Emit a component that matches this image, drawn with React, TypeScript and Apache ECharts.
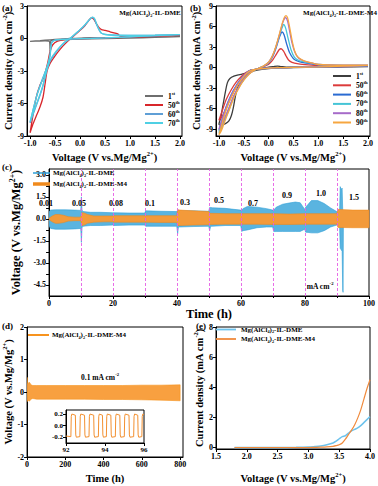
import React, { useEffect, useRef } from "react";
import * as echarts from "echarts";

const FONT = '"Liberation Serif", "Times New Roman", serif';

// ---------------- (a) CV, Mg(AlCl4)2-IL-DME : [V, mA cm-2]
const aNames = ["a1", "a50", "a60", "a70"];
const aLabels = ["1|st", "50|th", "60|th", "70|th"];
const aCycle1 = [[2.0,0.18],[1.5,0.1],[1.0,0.04],[0.5,0.0],[0.0,-0.05],[-0.3,-0.1],[-0.5,-0.15],[-0.58,-0.2],[-0.6,-1.15],[-0.61,-0.3],[-0.7,-0.22],[-0.85,-0.24],[-1.0,-0.26],[-0.8,-0.2],[-0.6,-0.12],[-0.4,-0.06],[-0.2,0.0],[0.0,0.03],[0.2,0.08],[0.5,0.05],[1.0,0.08],[1.5,0.12],[2.0,0.18]];
const aCycle50 = [[2.0,0.3],[1.5,0.2],[1.0,0.12],[0.5,0.05],[0.0,-0.02],[-0.3,-0.1],[-0.45,-0.25],[-0.55,-0.6],[-0.6,-1.2],[-0.65,-2.3],[-0.72,-3.5],[-0.8,-4.3],[-0.88,-5.5],[-0.95,-7.3],[-1.0,-8.7],[-0.95,-8.0],[-0.88,-7.2],[-0.8,-6.3],[-0.74,-5.4],[-0.7,-4.2],[-0.66,-3.0],[-0.6,-2.3],[-0.5,-1.6],[-0.4,-1.0],[-0.3,-0.5],[-0.2,-0.05],[-0.1,0.35],[0.0,0.75],[0.1,1.2],[0.18,1.7],[0.23,1.9],[0.28,1.75],[0.33,1.35],[0.38,1.0],[0.43,0.82],[0.5,0.75],[0.6,0.62],[0.7,0.5],[0.76,0.4],[0.8,0.22],[0.9,0.16],[1.0,0.15],[1.5,0.22],[2.0,0.3]];
const aCycle60 = [[2.0,0.35],[1.5,0.25],[1.0,0.15],[0.5,0.05],[0.0,-0.02],[-0.3,-0.08],[-0.5,-0.15],[-0.57,-0.4],[-0.6,-1.6],[-0.65,-2.5],[-0.75,-3.7],[-0.85,-5.0],[-0.93,-6.4],[-1.0,-7.8],[-0.97,-7.4],[-0.9,-6.5],[-0.82,-5.5],[-0.75,-4.5],[-0.68,-3.2],[-0.6,-2.1],[-0.5,-1.4],[-0.4,-0.8],[-0.3,-0.35],[-0.2,0.0],[-0.1,0.4],[0.0,0.8],[0.1,1.25],[0.18,1.7],[0.24,1.95],[0.28,1.85],[0.33,1.3],[0.38,0.8],[0.42,0.5],[0.5,0.38],[0.7,0.3],[1.0,0.28],[1.5,0.3],[2.0,0.35]];
const aCycle70 = [[2.0,0.36],[1.5,0.26],[1.0,0.16],[0.5,0.05],[0.0,-0.02],[-0.3,-0.08],[-0.5,-0.16],[-0.57,-0.45],[-0.6,-1.5],[-0.66,-2.6],[-0.76,-3.9],[-0.86,-5.2],[-0.94,-6.6],[-1.0,-7.7],[-0.97,-7.3],[-0.9,-6.4],[-0.82,-5.4],[-0.74,-4.3],[-0.67,-3.0],[-0.6,-2.0],[-0.5,-1.3],[-0.4,-0.75],[-0.3,-0.3],[-0.2,0.02],[-0.1,0.42],[0.0,0.82],[0.1,1.28],[0.18,1.72],[0.25,1.97],[0.29,1.85],[0.34,1.25],[0.39,0.75],[0.43,0.48],[0.5,0.37],[0.7,0.3],[1.0,0.29],[1.5,0.31],[2.0,0.36]];
const aData = [aCycle1, aCycle50, aCycle60, aCycle70];
const aColors = ["#6e6e6e", "#d8262b", "#5f9fd6", "#4fd0e4"];

// ---------------- (b) CV, Mg(AlCl4)2-IL-DME-M4
const bNames = ["b1", "b50", "b60", "b70", "b80", "b90"];
const bLabels = ["1|st", "50|th", "60|th", "70|th", "80|th", "90|th"];
const bCycle1 = [[2.0,0.15],[1.5,0.1],[1.0,0.05],[0.5,0.0],[0.2,-0.05],[0.0,-0.15],[-0.2,-0.35],[-0.35,-0.6],[-0.5,-0.9],[-0.6,-1.05],[-0.7,-1.25],[-0.78,-1.6],[-0.83,-2.2],[-0.87,-3.5],[-0.92,-5.5],[-0.96,-7.2],[-1.0,-8.3],[-0.95,-8.4],[-0.87,-8.2],[-0.8,-7.8],[-0.75,-7.0],[-0.71,-5.8],[-0.67,-4.2],[-0.63,-3.0],[-0.57,-2.0],[-0.5,-1.4],[-0.42,-0.9],[-0.3,-0.5],[-0.15,-0.2],[0.0,0.05],[0.1,0.15],[0.18,0.22],[0.25,0.15],[0.4,0.05],[0.7,0.05],[1.0,0.1],[1.5,0.15],[2.0,0.2]];
const bCycle50 = [[2.0,0.25],[1.5,0.15],[1.0,0.08],[0.5,0.02],[0.2,-0.02],[0.0,-0.08],[-0.2,-0.2],[-0.35,-0.35],[-0.45,-0.7],[-0.55,-1.3],[-0.65,-2.1],[-0.75,-3.2],[-0.85,-4.6],[-0.93,-6.2],[-1.0,-7.7],[-0.95,-7.3],[-0.88,-6.3],[-0.8,-5.0],[-0.7,-3.5],[-0.6,-2.3],[-0.5,-1.4],[-0.4,-0.75],[-0.3,-0.35],[-0.2,-0.1],[-0.1,0.15],[0.0,0.5],[0.08,1.1],[0.15,1.9],[0.21,2.6],[0.25,2.75],[0.3,2.4],[0.35,1.7],[0.4,1.1],[0.47,0.75],[0.6,0.55],[0.8,0.4],[1.0,0.3],[1.5,0.25],[2.0,0.25]];
const bCycle60 = [[2.0,0.25],[1.5,0.15],[1.0,0.08],[0.5,0.02],[0.2,-0.02],[0.0,-0.08],[-0.2,-0.2],[-0.35,-0.35],[-0.45,-0.8],[-0.55,-1.6],[-0.65,-2.6],[-0.75,-3.9],[-0.85,-5.6],[-0.93,-7.4],[-1.0,-9.2],[-0.95,-8.6],[-0.88,-7.4],[-0.8,-6.0],[-0.7,-4.2],[-0.6,-2.8],[-0.5,-1.7],[-0.4,-0.9],[-0.3,-0.4],[-0.2,-0.1],[-0.1,0.2],[0.0,0.7],[0.08,1.6],[0.15,2.9],[0.21,4.3],[0.27,5.2],[0.31,4.8],[0.36,3.5],[0.42,2.2],[0.5,1.3],[0.6,0.9],[0.8,0.6],[1.0,0.4],[1.5,0.3],[2.0,0.3]];
const bCycle70 = [[2.0,0.28],[1.5,0.17],[1.0,0.09],[0.5,0.02],[0.2,-0.02],[0.0,-0.08],[-0.2,-0.2],[-0.35,-0.38],[-0.45,-0.85],[-0.55,-1.7],[-0.65,-2.8],[-0.75,-4.1],[-0.85,-5.9],[-0.93,-7.7],[-1.0,-9.5],[-0.95,-8.9],[-0.88,-7.6],[-0.8,-6.2],[-0.7,-4.3],[-0.6,-2.9],[-0.5,-1.8],[-0.4,-0.95],[-0.3,-0.42],[-0.2,-0.1],[-0.1,0.22],[0.0,0.75],[0.08,1.7],[0.15,3.1],[0.22,4.7],[0.27,5.8],[0.3,6.3],[0.34,5.8],[0.39,4.3],[0.45,2.6],[0.52,1.5],[0.62,1.0],[0.8,0.7],[1.0,0.45],[1.5,0.32],[2.0,0.32]];
const bCycle80 = [[2.0,0.3],[1.5,0.18],[1.0,0.1],[0.5,0.03],[0.2,-0.02],[0.0,-0.08],[-0.2,-0.2],[-0.35,-0.36],[-0.45,-0.8],[-0.55,-1.6],[-0.65,-2.7],[-0.75,-4.0],[-0.85,-5.7],[-0.93,-7.4],[-1.0,-9.0],[-0.95,-8.5],[-0.88,-7.3],[-0.8,-5.9],[-0.7,-4.1],[-0.6,-2.8],[-0.5,-1.7],[-0.4,-0.9],[-0.3,-0.4],[-0.2,-0.1],[-0.1,0.22],[0.0,0.78],[0.08,1.75],[0.15,3.1],[0.22,4.9],[0.28,6.5],[0.32,7.2],[0.34,7.3],[0.38,6.8],[0.42,5.4],[0.47,3.6],[0.53,2.2],[0.6,1.4],[0.7,1.0],[0.85,0.7],[1.0,0.45],[1.5,0.34],[2.0,0.34]];
const bCycle90 = [[2.0,0.32],[1.5,0.2],[1.0,0.1],[0.5,0.03],[0.2,-0.02],[0.0,-0.08],[-0.2,-0.2],[-0.35,-0.4],[-0.45,-0.9],[-0.55,-1.8],[-0.65,-2.9],[-0.75,-4.3],[-0.85,-6.1],[-0.93,-8.0],[-1.0,-9.8],[-0.95,-9.2],[-0.88,-7.8],[-0.8,-6.3],[-0.7,-4.4],[-0.6,-3.0],[-0.5,-1.85],[-0.4,-1.0],[-0.3,-0.45],[-0.2,-0.1],[-0.1,0.25],[0.0,0.8],[0.08,1.8],[0.15,3.2],[0.22,5.0],[0.28,6.6],[0.32,7.4],[0.35,7.6],[0.38,7.3],[0.42,6.0],[0.47,4.0],[0.52,2.5],[0.58,1.6],[0.68,1.1],[0.8,0.8],[1.0,0.45],[1.5,0.35],[2.0,0.35]];
const bData = [bCycle1, bCycle50, bCycle60, bCycle70, bCycle80, bCycle90];
const bColors = ["#3d3d3d", "#dc3b3b", "#2a6bd2", "#45c4d6", "#a66bc9", "#f6a640"];

// ---------------- (c) galvanostatic cycling envelopes [h, V]
const cRates = ["0.01", "0.05", "0.08", "0.1", "0.3", "0.5", "0.7", "0.9", "1.0", "1.5"];
const cRateSwitchHours = [10, 20, 30, 40, 50, 60, 70, 80, 90];
const cBlueT  = [0,0.5,2,5,8,9.9, 10.1,10.3,10.6,13,16,19.9, 20.2,25,29.9, 30.2,35,39.9, 40.2,40.4,40.7,45,49.9, 50.2,50.5,51,55,59.9, 60.2,60.6,62,65,68,69.9, 70.2,71,73,75,77,78.5,79.9, 80.2,81,82,84,86,88,89.9, 90.5,90.8,91.0,91.3,91.6,91.8,91.9,92.0];
const cBlueHi = [0.5,0.6,0.62,0.62,0.6,0.58, 1.5,0.6,0.5,0.45,0.45,0.42, 0.42,0.4,0.4, 0.55,0.52,0.5, 0.6,0.6,0.55,0.55,0.52, 0.78,0.78,0.76,0.72,0.6, 0.6,0.7,0.85,0.8,0.7,0.6, 0.6,0.8,1.0,1.08,1.15,1.1,0.65, 0.8,1.0,1.25,1.25,1.05,0.75,0.5, 0.45,0.45,2.2,2.0,2.1,0.5,0.3,0.0];
const cBlueLo = [-0.5,-0.65,-0.7,-0.7,-0.68,-0.65, -1.6,-0.6,-0.5,-0.45,-0.45,-0.42, -0.45,-0.42,-0.42, -0.5,-0.5,-0.5, -1.0,-0.6,-0.55,-0.52,-0.5, -0.8,-0.5,-0.5,-0.45,-0.45, -0.85,-0.8,-0.75,-0.6,-0.55,-0.55, -0.85,-0.85,-0.85,-0.85,-0.85,-0.85,-0.7, -0.9,-0.92,-0.95,-0.95,-0.8,-0.55,-0.42, -0.4,-0.4,-2.0,-2.1,-2.2,-4.9,-5.0,-0.3];
const cOrT  = [0,1,2,3,4.5,6,8,9.9, 10.2,11,12,14,17,19.9, 20.2,25,30,35,39.9, 40.2,41,45,49.9, 50.2,55,60,65,70,75,80,85,89.9, 90.3,95,100];
const cOrHi = [0.05,0.2,0.3,0.3,0.25,0.15,0.12,0.12, 0.42,0.4,0.3,0.2,0.2,0.2, 0.22,0.22,0.22,0.22,0.22, 0.62,0.6,0.55,0.5, 0.38,0.36,0.36,0.36,0.36,0.33,0.36,0.36,0.36, 0.65,0.6,0.6];
const cOrLo = [-0.05,-0.2,-0.3,-0.3,-0.25,-0.15,-0.12,-0.12, -0.45,-0.42,-0.3,-0.22,-0.2,-0.2, -0.22,-0.22,-0.22,-0.24,-0.24, -0.45,-0.45,-0.42,-0.4, -0.38,-0.36,-0.36,-0.36,-0.38,-0.38,-0.36,-0.36,-0.36, -0.58,-0.6,-0.6];
const cYLabels = [-4.5, -3, -1.5, 0, 1.5, 3];
const cYTicks = [-4.5, -3.75, -3, -2.25, -1.5, -0.75, 0, 0.75, 1.5, 2.25, 3];

// ---------------- (d) long-term cycling envelope (M4) [h, V]
const dT  = [0,0.5,2,5,10,15,20,30,50,100,200,300,400,500,600,700,800];
const dHi = [0.1,0.45,0.3,0.25,0.3,0.28,0.22,0.2,0.2,0.2,0.2,0.2,0.2,0.2,0.21,0.21,0.22];
const dLo = [-0.05,-0.3,-0.25,-0.25,-0.28,-0.27,-0.22,-0.2,-0.22,-0.22,-0.22,-0.22,-0.23,-0.23,-0.24,-0.25,-0.27];
// inset: voltage profile 92-96 h
const insetWave = [[92.00,-0.18],[92.25,-0.19],[92.27,0.16],[92.30,0.20],[92.48,0.18],[92.50,-0.16],[92.53,-0.20],[92.71,-0.19],[92.73,0.16],[92.76,0.20],[92.95,0.18],[92.97,-0.16],[93.00,-0.20],[93.18,-0.19],[93.20,0.16],[93.23,0.20],[93.42,0.18],[93.44,-0.16],[93.47,-0.20],[93.66,-0.19],[93.68,0.16],[93.71,0.20],[93.87,0.18],[93.89,-0.16],[93.92,-0.20],[94.07,-0.19],[94.09,0.16],[94.12,0.20],[94.30,0.18],[94.32,-0.16],[94.35,-0.20],[94.53,-0.19],[94.55,0.16],[94.58,0.20],[94.76,0.18],[94.78,-0.16],[94.81,-0.20],[94.99,-0.19],[95.01,0.16],[95.04,0.20],[95.23,0.18],[95.25,-0.16],[95.28,-0.20],[95.47,-0.19],[95.49,0.16],[95.52,0.20],[95.68,0.18],[95.70,-0.16],[95.73,-0.20],[95.89,-0.19],[95.91,0.16],[95.94,0.20],[96.00,0.19]];

// ---------------- (e) LSV [V, mA cm-2]
const eV      = [1.8,2.0,2.5,2.8,3.0,3.1,3.2,3.3,3.4,3.45,3.5,3.55,3.6,3.65,3.7,3.75,3.8,3.85,3.9,3.95,4.0];
const eDME    = [0,0,0,0.01,0.03,0.06,0.1,0.18,0.3,0.42,0.58,0.72,0.78,0.95,1.1,1.2,1.3,1.45,1.65,1.85,2.05];
const eM4     = [0,0,0,0,0,0.01,0.02,0.04,0.08,0.12,0.18,0.3,0.55,0.85,1.15,1.5,1.95,2.5,3.2,3.9,4.5];

// ---------------------------------------------------------------
function rich(size: number) {
  const base = { fontFamily: FONT, fontWeight: "bold", color: "#000", fill: "#000" };
  const small = Math.round(size * 0.62 * 10) / 10;
  return {
    n: { ...base, fontSize: size, lineHeight: Math.round(size * 1.3) },
    sup: { ...base, fontSize: small, lineHeight: Math.round(size * 0.75), verticalAlign: "top" },
    sub: { ...base, fontSize: small, lineHeight: Math.round(size * 0.75), verticalAlign: "bottom" },
  };
}
const VOLT_NAME = "{n|Voltage (V vs.Mg/Mg}{sup|2+}{n|)}";
const CD_NAME = "{n|Current density (mA cm}{sup|-2}{n|)}";
const DME = "{n|Mg(AlCl}{sub|4}{n|)}{sub|2}{n|-IL-DME}";
const DME_M4 = "{n|Mg(AlCl}{sub|4}{n|)}{sub|2}{n|-IL-DME-M4}";
const ordinal = (s: string) => { const [a, b] = s.split("|"); return `{n|${a}}{sup|${b}}`; };

function axis(opts: any) {
  const { grid, min, max, ticks, labels, fmt, name, gap, nameSize = 10.5, labelSize = 8, interval, minor } = opts;
  const a: any = {
    type: "value", gridIndex: grid, min, max,
    name, nameLocation: "middle", nameGap: gap,
    nameTextStyle: { fontFamily: FONT, fontWeight: "bold", fontSize: nameSize, color: "#000", rich: rich(nameSize) },
    axisLine: { show: true, onZero: false, lineStyle: { color: "#000", width: 1 } },
    axisTick: { show: true, length: 3, inside: false, lineStyle: { color: "#000", width: 1 } },
    axisLabel: { show: true, fontFamily: FONT, fontWeight: "bold", fontSize: labelSize, color: "#000", margin: 3, formatter: fmt },
    splitLine: { show: false },
  };
  if (ticks) { a.axisTick.customValues = ticks; a.axisLabel.customValues = labels || ticks; }
  if (interval) a.interval = interval;
  if (minor) a.minorTick = { show: true, splitNumber: 2, length: 2, lineStyle: { color: "#000" } };
  return a;
}
const f1 = (v: number) => v.toFixed(1);
const f0 = (v: number) => String(Math.round(v));

function band(name: string, xi: number, t: number[], hi: number[], lo: number[], color: string, fill: string, z: number) {
  const rows = t.map((v, i) => [v, hi[i], lo[i]]);
  return {
    type: "custom", name, xAxisIndex: xi, yAxisIndex: xi, z, clip: true,
    data: rows, itemStyle: { color }, encode: { x: 0, y: [1, 2] },
    renderItem: (params: any, api: any) => {
      if (params.dataIndex !== 0) return { type: "group", children: [] };
      const top = rows.map((r) => api.coord([r[0], r[1]]));
      const bot = rows.map((r) => api.coord([r[0], r[2]])).reverse();
      return { type: "polygon", shape: { points: top.concat(bot) }, style: { fill, stroke: color, lineWidth: 0.6 } };
    },
  };
}

function txt(text: string, x: number, y: number, size: number, align = "center") {
  return { type: "text", z: 100, style: { text, x, y, align, verticalAlign: "middle", rich: rich(size), fontFamily: FONT, fontWeight: "bold", fontSize: size, fill: "#000" } };
}
function swatch(x: number, y: number, w: number, h: number, color: string) {
  return { type: "rect", z: 100, shape: { x, y: y - h / 2, width: w, height: h }, style: { fill: color } };
}

function buildOption() {
  const grids = [
    { left: 26, top: 6, width: 156, height: 130 },
    { left: 216, top: 6, width: 154, height: 130 },
    { left: 31, top: 169, width: 339, height: 127 },
    { left: 26, top: 327, width: 157, height: 130 },
    { left: 216, top: 327, width: 155, height: 122 },
    { left: 66, top: 410, width: 78, height: 33, backgroundColor: "#fff" },
  ].map((g) => ({ show: true, borderColor: "#000", borderWidth: 1, backgroundColor: "transparent", ...g }));

  const xAxis = [
    axis({ grid: 0, min: -1.06, max: 2.04, ticks: [-1, -0.5, 0, 0.5, 1, 1.5, 2], fmt: f1, name: VOLT_NAME, gap: 14 }),
    axis({ grid: 1, min: -1.06, max: 2.04, ticks: [-1, -0.5, 0, 0.5, 1, 1.5, 2], fmt: f1, name: VOLT_NAME, gap: 14 }),
    axis({ grid: 2, min: 0, max: 100, interval: 20, minor: true, fmt: f0, name: "{n|Time (h)}", gap: 10, nameSize: 12.5 }),
    axis({ grid: 3, min: 0, max: 815, ticks: [0, 200, 400, 600, 800], fmt: f0, name: "{n|Time (h)}", gap: 14 }),
    axis({ grid: 4, min: 1.5, max: 4.0, ticks: [1.5, 2.0, 2.5, 3.0, 3.5, 4.0], fmt: f1, name: VOLT_NAME, gap: 22 }),
    axis({ grid: 5, min: 92, max: 96, ticks: [92, 94, 96], fmt: f0, name: "", gap: 0, labelSize: 7 }),
  ];
  const yAxis = [
    axis({ grid: 0, min: -9, max: 3, ticks: [-9, -6, -3, 0, 3], fmt: f0, name: CD_NAME, gap: 9 }),
    axis({ grid: 1, min: -10, max: 9, ticks: [-9, -6, -3, 0, 3, 6, 9], fmt: f0, name: CD_NAME, gap: 12 }),
    axis({ grid: 2, min: -5.25, max: 3.4, ticks: cYTicks, labels: cYLabels, fmt: f1, name: VOLT_NAME, gap: 14, nameSize: 12.5 }),
    axis({ grid: 3, min: -2, max: 2, ticks: [-2, -1, 0, 1, 2], fmt: f0, name: VOLT_NAME, gap: 10 }),
    axis({ grid: 4, min: -0.1, max: 8, ticks: [0, 2, 4, 6, 8], fmt: f0, name: CD_NAME, gap: 10 }),
    axis({ grid: 5, min: -0.3, max: 0.27, ticks: [-0.2, 0, 0.2], fmt: f1, name: "", gap: 0, labelSize: 7 }),
  ];

  const series: any[] = [];
  aData.forEach((d, i) => series.push({ type: "line", name: aNames[i], xAxisIndex: 0, yAxisIndex: 0, data: d, symbol: "none", smooth: 0.25, lineStyle: { color: aColors[i], width: 1.3 }, itemStyle: { color: aColors[i] } }));
  bData.forEach((d, i) => series.push({ type: "line", name: bNames[i], xAxisIndex: 1, yAxisIndex: 1, data: d, symbol: "none", smooth: 0.25, lineStyle: { color: bColors[i], width: 1.3 }, itemStyle: { color: bColors[i] } }));
  series.push(band("cDME", 2, cBlueT, cBlueHi, cBlueLo, "#2f9fd6", "#5ab4e0", 2));
  series.push(band("cM4", 2, cOrT, cOrHi, cOrLo, "#f08a1c", "#f39a3a", 3));
  series.push({
    type: "line", name: "cMarks", xAxisIndex: 2, yAxisIndex: 2, data: [], z: 5,
    markLine: { silent: true, symbol: ["none", "none"], label: { show: false }, animation: false,
      lineStyle: { color: "#e45ce4", type: [3, 2], width: 0.9 },
      data: cRateSwitchHours.map((h) => ({ xAxis: h })) },
  });
  series.push(band("dM4", 3, dT, dHi, dLo, "#f7931e", "#f8a040", 2));
  series.push({ type: "line", name: "inset", xAxisIndex: 5, yAxisIndex: 5, data: insetWave, symbol: "none", lineStyle: { color: "#f39030", width: 1 }, z: 4 });
  series.push({ type: "line", name: "eDME", xAxisIndex: 4, yAxisIndex: 4, data: eV.map((v, i) => [v, eDME[i]]), symbol: "none", smooth: 0.3, lineStyle: { color: "#6cc2ec", width: 1.5 }, itemStyle: { color: "#6cc2ec" } });
  series.push({ type: "line", name: "eM4", xAxisIndex: 4, yAxisIndex: 4, data: eV.map((v, i) => [v, eM4[i]]), symbol: "none", smooth: 0.3, lineStyle: { color: "#f08a3c", width: 1.2 }, itemStyle: { color: "#f08a3c" } });

  const legendText: Record<string, string> = {};
  aNames.forEach((n, i) => (legendText[n] = ordinal(aLabels[i])));
  bNames.forEach((n, i) => (legendText[n] = ordinal(bLabels[i])));
  legendText.eDME = DME; legendText.eM4 = DME_M4;
  const fmt = (n: string) => legendText[n];
  const legendBase = (extra: any, size = 7.5) => ({
    orient: "vertical", padding: 0, itemGap: 0, itemWidth: 18, itemHeight: 2, icon: "rect",
    selectedMode: false, formatter: fmt,
    textStyle: { fontFamily: FONT, fontWeight: "bold", fontSize: size, color: "#000", rich: rich(size) },
    ...extra,
  });
  const legend = [
    legendBase({ left: 145, top: 91, data: aNames }),
    legendBase({ left: 333, top: 71, itemGap: 0.3, data: bNames }),
    legendBase({ left: 216, top: 326, itemWidth: 20, itemHeight: 1.8, itemGap: 1.5, data: ["eDME", "eM4"] }, 7),
  ];

  const rateX = [46, 79, 116, 150, 185, 219, 253, 287, 321, 354];
  const rateY = [203, 203, 203, 203, 202, 200, 203, 195, 193, 197];
  const graphic: any[] = [
    txt("{n|(a)}", 2, 8, 9, "left"),
    txt("{n|(b)}", 190, 8, 9, "left"),
    txt("{n|(c)}", 2, 167, 9, "left"),
    txt("{n|(d)}", 2, 326, 9, "left"),
    txt("{n|(e)}", 196, 326, 9, "left"),
    txt(DME, 150, 13, 7),
    txt(DME_M4, 340, 13, 7),
    // legends of the band series (c), (d)
    swatch(33, 173, 17, 1.5, "#2f9fd6"), txt(DME, 53, 173, 7, "left"),
    swatch(33, 184, 17, 3.5, "#f08a1c"), txt(DME_M4, 53, 184, 7, "left"),
    swatch(28, 335, 21, 2, "#f7931e"), txt(DME_M4, 52, 335, 7, "left"),
    txt("{n|mA cm}{sup|-2}", 320, 286, 7.5),
    txt("{n|0.1 mA cm}{sup|-2}", 100, 377, 7.5),
    ...cRates.map((r, i) => txt(`{n|${r}}`, rateX[i], rateY[i], 8)),
  ];

  return { animation: false, backgroundColor: "#fff", grid: grids, xAxis, yAxis, series, legend, graphic };
}

export default function App() {
  const ref = useRef<HTMLDivElement>(null);
  useEffect(() => {
    const chart = echarts.init(ref.current as HTMLDivElement, null, { renderer: "svg" });
    chart.setOption(buildOption() as any);
    return () => chart.dispose();
  }, []);
  return <div ref={ref} style={{ position: "fixed", left: 0, top: 0, width: 378, height: 486, background: "#fff" }} />;
}
